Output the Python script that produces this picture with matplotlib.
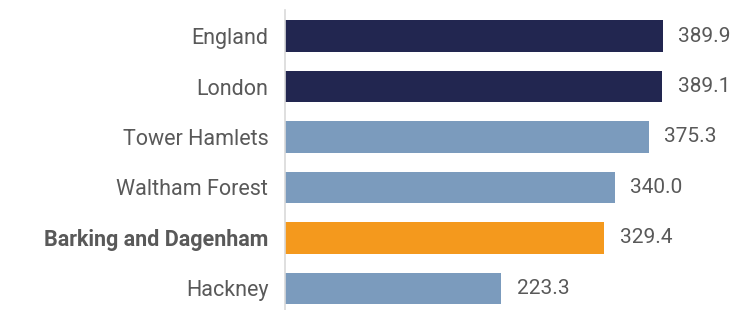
import matplotlib
matplotlib.use("Agg")
import matplotlib.pyplot as plt

areas = ["England", "London", "Tower Hamlets", "Waltham Forest",
         "Barking and Dagenham", "Hackney"]
values = [389.9, 389.1, 375.3, 340.0, 329.4, 223.3]
colors = ["#222650", "#222650", "#7B9BBD", "#7B9BBD", "#F4991D", "#7B9BBD"]

plt.rcParams['font.family'] = ['Roboto', 'DejaVu Sans']
text_col = "#595959"

fig = plt.figure(figsize=(7.45, 3.10), dpi=100)
ax = fig.add_axes([285 / 745, 0, 460 / 745, 300 / 310])

y = range(len(areas))
ax.barh(y, values, height=0.63, color=colors)
ax.set_xlim(0, 474.5)
ax.set_ylim(5.426, -0.515)

for i, v in enumerate(values):
    ax.text(v + 16, i, f"{v:.1f}", va="center", ha="left",
            fontsize=15, color=text_col)

ax.set_yticks(list(y))
ax.set_yticklabels(areas, fontsize=15.5, color=text_col)
for lab in ax.get_yticklabels():
    if lab.get_text() == "Barking and Dagenham":
        lab.set_fontweight("bold")
ax.tick_params(axis="y", length=0, pad=12)
ax.set_xticks([])
for s in ["top", "right", "bottom"]:
    ax.spines[s].set_visible(False)
ax.spines["left"].set_color("#D9D9D9")
ax.spines["left"].set_linewidth(1.2)

fig.savefig("out.png", dpi=100)
